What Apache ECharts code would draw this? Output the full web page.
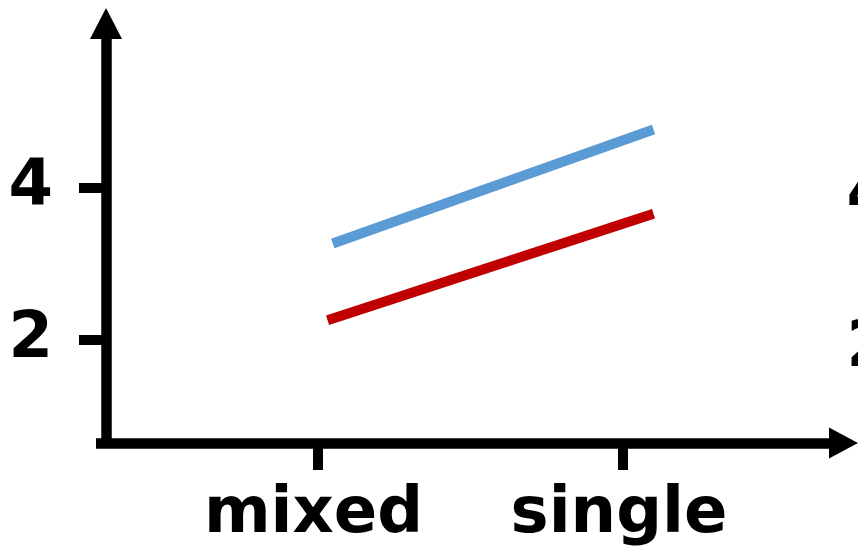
<!DOCTYPE html>
<html>
<head>
<meta charset="utf-8">
<script src="https://cdn.jsdelivr.net/npm/echarts@6/dist/echarts.min.js"></script>
<style>
html,body{margin:0;padding:0;background:#fff;}
#chart{width:858px;height:547px;}
</style>
</head>
<body>
<div id="chart"></div>
<script>
// ---- data ----
const categories = ['mixed', 'single'];
const categoryPositions = [1, 2];
const yTickValues = [2, 4];
const blueX = [1.05, 2.10];
const blueY = [3.27, 4.77];
const redX = [1.033, 2.10];
const redY = [2.26, 3.66];

const pairs = (xs, ys) => xs.map((x, i) => [x, ys[i]]);
const FONT = 'DejaVu Sans';
const axisW = 10.5;

const labelStyle = {
  fontFamily: FONT, fontWeight: 'bold', fontSize: 64, color: '#000'
};

const chart = echarts.init(document.getElementById('chart'), null, {renderer: 'canvas'});
chart.setOption({
  backgroundColor: '#fff',
  animation: false,
  grid: [
    {left: 96, right: 14.5, top: 23.5, bottom: 104, containLabel: false},
    {left: 944, width: 100, top: 32.5, bottom: 95, containLabel: false}
  ],
  xAxis: [
    {
      type: 'value', gridIndex: 0, min: 0.275, max: 2.722,
      axisLine: {show: true, onZero: false, symbol: ['none', 'triangle'], symbolSize: [31, 29],
        lineStyle: {color: '#000', width: axisW, cap: 'butt'}},
      axisTick: {show: true, customValues: categoryPositions, length: 27,
        lineStyle: {color: '#000', width: 10, cap: 'butt'}},
      axisLabel: Object.assign({show: true, margin: 40, padding: [0, 8, 0, 0], customValues: categoryPositions,
        formatter: v => categories[categoryPositions.indexOf(v)] || ''}, labelStyle),
      splitLine: {show: false}
    },
    {
      type: 'value', gridIndex: 1, min: 0, max: 1, show: false
    }
  ],
  yAxis: [
    {
      type: 'value', gridIndex: 0, min: 0.645, max: 6.164, offset: -10,
      axisLine: {show: true, onZero: false, symbol: ['none', 'triangle'], symbolSize: [32, 31],
        lineStyle: {color: '#000', width: axisW, cap: 'butt'}},
      axisTick: {show: true, customValues: yTickValues, length: 27,
        lineStyle: {color: '#000', width: 10, cap: 'butt'}},
      axisLabel: Object.assign({show: true, margin: 53, customValues: yTickValues}, labelStyle),
      splitLine: {show: false}
    },
    {
      type: 'value', gridIndex: 1, min: 0.645, max: 6.164,
      axisLine: {show: true, onZero: false, lineStyle: {color: '#000', width: axisW, cap: 'butt'}},
      axisTick: {show: true, customValues: yTickValues, length: 27,
        lineStyle: {color: '#000', width: 10, cap: 'butt'}},
      axisLabel: Object.assign({show: true, margin: 53, customValues: yTickValues}, labelStyle),
      splitLine: {show: false}
    }
  ],
  series: [
    {
      type: 'line', xAxisIndex: 0, yAxisIndex: 0, data: pairs(blueX, blueY),
      showSymbol: false, symbol: 'none',
      lineStyle: {color: '#5B9BD5', width: 10, cap: 'butt'}
    },
    {
      type: 'line', xAxisIndex: 0, yAxisIndex: 0, data: pairs(redX, redY),
      showSymbol: false, symbol: 'none',
      lineStyle: {color: '#C00000', width: 10, cap: 'butt'}
    }
  ]
});
</script>
</body>
</html>
